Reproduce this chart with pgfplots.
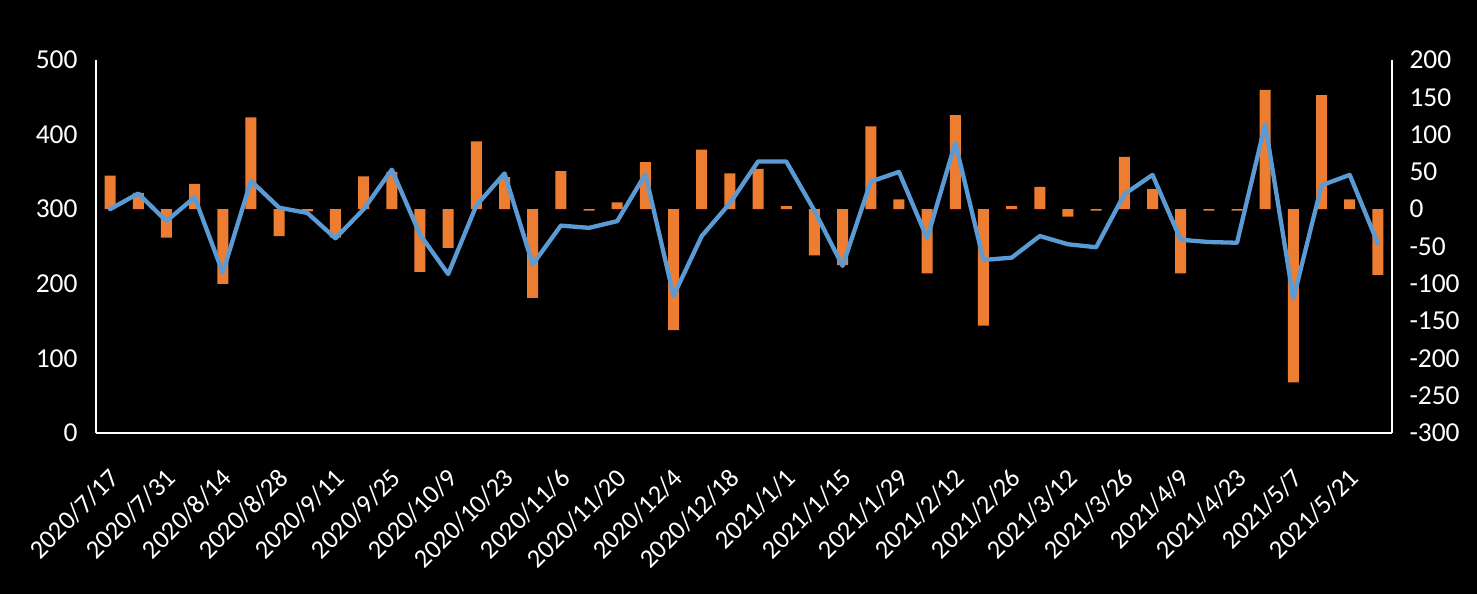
\documentclass[border=0pt]{standalone}
\usepackage{fontspec}
\setmainfont{Carlito}
\usepackage{pgfplots}
\usepackage{pgfplotstable}
\pgfplotsset{compat=1.18}
\usetikzlibrary{backgrounds,calc}
\definecolor{barorange}{HTML}{ED7D31}
\definecolor{lineblue}{HTML}{5B9BD5}
\pgfplotstableread{
x bar line
0 45 0
1 22 21
2 -38 -16
3 34 16
4 -100 -85
5 123 38
6 -36 2
7 -3 -5
8 -38 -39
9 44 0
10 50 53
11 -84 -34
12 -52 -87
13 91 5
14 43 48
15 -119 -74
16 51 -22
17 -2 -25
18 9 -16
19 63 47
20 -162 -116
21 80 -36
22 48 8
23 54 64
24 4 64
25 -62 -2
26 -75 -76
27 111 37
28 13 50
29 -86 -39
30 126 89
31 -156 -68
32 4 -65
33 30 -36
34 -10 -47
35 -2 -51
36 70 20
37 27 46
38 -86 -41
39 -2 -44
40 -2 -45
41 160 114
42 -232 -120
43 153 32
44 13 46
45 -88 -46
}\datatable
\begin{document}
\begin{tikzpicture}
\pgfplotsset{
  every axis/.append style={
    scale only axis, width=1296bp, height=373bp,
    xmin=-0.5, xmax=45.5,
    major tick length=0pt,
    tick label style={font=\fontsize{27.5}{30}\selectfont, text=white},
    axis line style={white, line width=1.6bp},
  }
}
\begin{axis}[
  name=ax1,
  ymin=0, ymax=500,
  ytick={0,100,200,300,400,500},
  yticklabels={0,100,200,300,400,500},
  yticklabel style={xshift=-15bp},
  axis x line*=bottom, axis y line*=left,
  xtick={0,2,...,44},
  xticklabels={2020/7/17,2020/7/31,2020/8/14,2020/8/28,2020/9/11,2020/9/25,2020/10/9,2020/10/23,2020/11/6,2020/11/20,2020/12/4,2020/12/18,2021/1/1,2021/1/15,2021/1/29,2021/2/12,2021/2/26,2021/3/12,2021/3/26,2021/4/9,2021/4/23,2021/5/7,2021/5/21},
  xticklabel style={font=\fontsize{26.5}{29}\selectfont, xshift=7bp, yshift=-38bp, rotate=45, anchor=east},
]
\coordinate (SW) at (rel axis cs:0,0);
\end{axis}
\begin{axis}[
  ymin=-300, ymax=200,
  ytick={-300,-250,...,200},
  yticklabels={-300,-250,-200,-150,-100,-50,0,50,100,150,200},
  yticklabel style={xshift=14bp},
  axis x line=none, axis y line*=right,
]
\addplot[ybar, bar width=11bp, fill=barorange, draw=none] table[x=x, y=bar] {\datatable};
\addplot[color=lineblue, line width=4.3bp, line join=round, line cap=round, mark=none] table[x=x, y=line] {\datatable};
\end{axis}
\begin{scope}[on background layer]
\fill[black] ($(SW)+(-96bp,-161bp)$) rectangle ($(SW)+(1381bp,433bp)$);
\end{scope}
\end{tikzpicture}
\end{document}
